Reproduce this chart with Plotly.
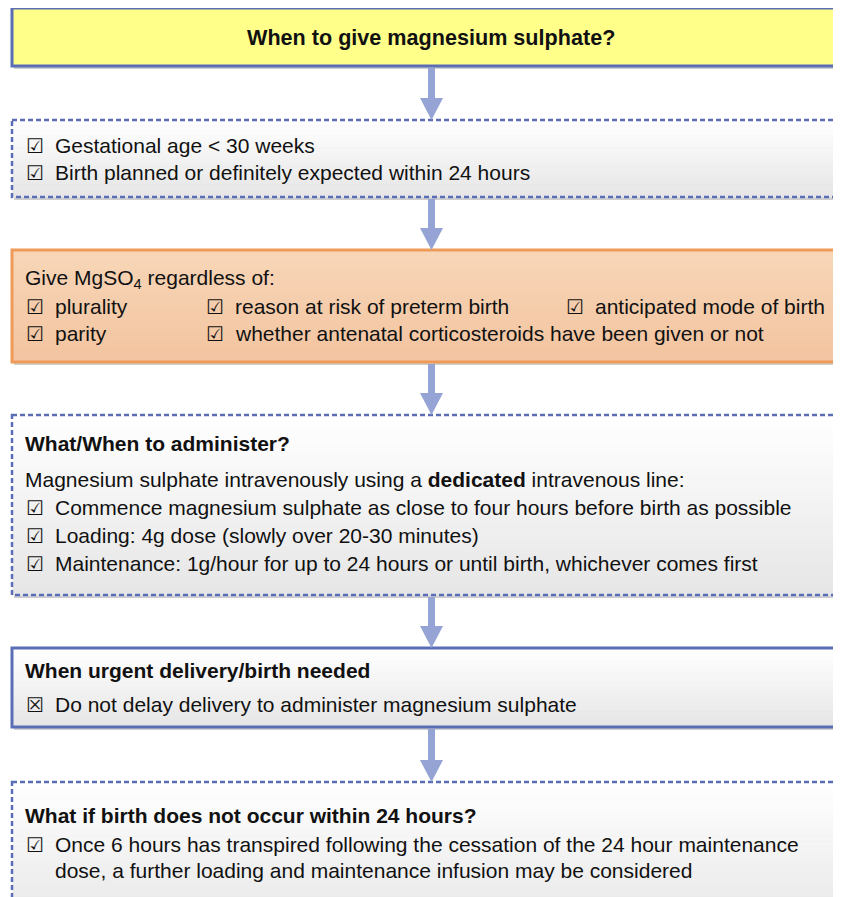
import plotly.graph_objects as go

W, H = 841, 897
OFF = 8  # page body margin compensation

# ---- content ----
title_text = "When to give magnesium sulphate?"
criteria = ["Gestational age < 30 weeks",
            "Birth planned or definitely expected within 24 hours"]
regardless_head = "Give MgSO<sub>4</sub> regardless of:"
regardless_items = [["plurality", "reason at risk of preterm birth", "anticipated mode of birth"],
                    ["parity", "whether antenatal corticosteroids have been given or not"]]
admin_head = "What/When to administer?"
admin_intro = "Magnesium sulphate intravenously using a <b>dedicated</b> intravenous line:"
admin_items = ["Commence magnesium sulphate as close to four hours before birth as possible",
               "Loading: 4g dose (slowly over 20-30 minutes)",
               "Maintenance: 1g/hour for up to 24 hours or until birth, whichever comes first"]
urgent_head = "When urgent delivery/birth needed"
urgent_items = ["Do not delay delivery to administer magnesium sulphate"]
repeat_head = "What if birth does not occur within 24 hours?"
repeat_items = ["Once 6 hours has transpired following the cessation of the 24 hour maintenance",
                "dose, a further loading and maintenance infusion may be considered"]

# ---- layout (pixel positions) ----
BX0, BX1 = 12, 870
boxes = [  # (y0, y1, style)
    (8, 66, "yellow"),
    (120, 197, "dashed"),
    (250, 362, "orange"),
    (415, 595, "dashed"),
    (648, 727, "solid"),
    (782, 930, "dashed"),
]
ARROW_X = 431.5
BLUE = "#5a6db5"
ARROW = "#95a4d4"
FONT = "Liberation Sans, Arial, sans-serif"
CBFONT = "DejaVu Sans"
FS = 21
TXT = "#111111"

shapes = []
annotations = []


def lerp(c1, c2, t):
    return "rgb(%d,%d,%d)" % tuple(round(a + (b - a) * t) for a, b in zip(c1, c2))


for (y0, y1, style) in boxes:
    shapes.append(dict(type="rect", x0=BX0 + 2, x1=BX1 + 2, y0=y0 + 3, y1=y1 + 3,
                       fillcolor="#cfcfcf", line=dict(width=0), layer="below"))
    if style == "yellow":
        shapes.append(dict(type="rect", x0=BX0, x1=BX1, y0=y0, y1=y1,
                           fillcolor="#ffff8a", line=dict(width=0), layer="below"))
    else:
        if style == "orange":
            c1, c2 = (247, 214, 183), (243, 196, 160)
        else:
            c1, c2 = (255, 255, 255), (230, 230, 230)
        n = 30
        hh = (y1 - y0) / n
        for i in range(n):
            shapes.append(dict(type="rect", x0=BX0, x1=BX1, y0=y0 + i * hh, y1=y0 + (i + 1) * hh + 0.6,
                               fillcolor=lerp(c1, c2, i / (n - 1)), line=dict(width=0), layer="below"))
    if style == "dashed":
        ln = dict(color=BLUE, width=2.5, dash="5px,3px")
    elif style == "orange":
        ln = dict(color="#ee9a58", width=3)
    else:
        ln = dict(color=BLUE, width=3)
    shapes.append(dict(type="rect", x0=BX0, x1=BX1, y0=y0, y1=y1,
                       fillcolor="rgba(0,0,0,0)", line=ln, layer="above"))

for a, b in zip(boxes[:-1], boxes[1:]):
    ys, ye = a[1] + 2, b[0]
    head = 22
    shapes.append(dict(type="rect", x0=ARROW_X - 3.5, x1=ARROW_X + 3.5, y0=ys, y1=ye - head + 2,
                       fillcolor=ARROW, line=dict(width=0), layer="above"))
    shapes.append(dict(type="path",
                       path=f"M {ARROW_X-11.5},{ye-head} L {ARROW_X+11.5},{ye-head} L {ARROW_X},{ye} Z",
                       fillcolor=ARROW, line=dict(width=0), layer="above"))


def txt(x, y, s, bold=False, size=FS, family=FONT, anchor="left"):
    annotations.append(dict(x=x, y=y, xref="x", yref="y", text=(f"<b>{s}</b>" if bold else s),
                            showarrow=False, xanchor=anchor, yanchor="middle",
                            font=dict(family=family, size=size, color=TXT)))


CHECK = "\u2611"
CROSS = "\u2612"


def item(x, y, s, mark=CHECK, gap=30):
    txt(x - 1, y + 0.5, mark, size=20, family=CBFONT)
    txt(x + gap - 2, y, s)


txt(431, 37, title_text, bold=True, size=21.6, anchor="center")
for y, s in zip([145, 172], criteria):
    item(25, y, s)
txt(23, 279, regardless_head)
cols = [25, 205, 565]
for y, row in zip([306, 333], regardless_items):
    for x, s in zip(cols, row):
        item(x, y, s)
txt(23, 443, admin_head, bold=True)
txt(23, 479, admin_intro)
for y, s in zip([507, 535, 563], admin_items):
    item(25, y, s)
txt(23, 670, urgent_head, bold=True)
for y, s in zip([704], urgent_items):
    item(25, y, s, mark=CROSS)
txt(23, 815, repeat_head, bold=True)
item(25, 844, repeat_items[0])
txt(53, 870, repeat_items[1])

fig = go.Figure()
fig.update_layout(
    width=W, height=H,
    margin=dict(l=0, r=0, t=0, b=0),
    paper_bgcolor="white", plot_bgcolor="white",
    xaxis=dict(range=[OFF, W + OFF], visible=False, fixedrange=True),
    yaxis=dict(range=[H + OFF, OFF], visible=False, fixedrange=True),
    shapes=shapes, annotations=annotations, showlegend=False,
)
fig.write_html("out.html", config={"displayModeBar": False})
